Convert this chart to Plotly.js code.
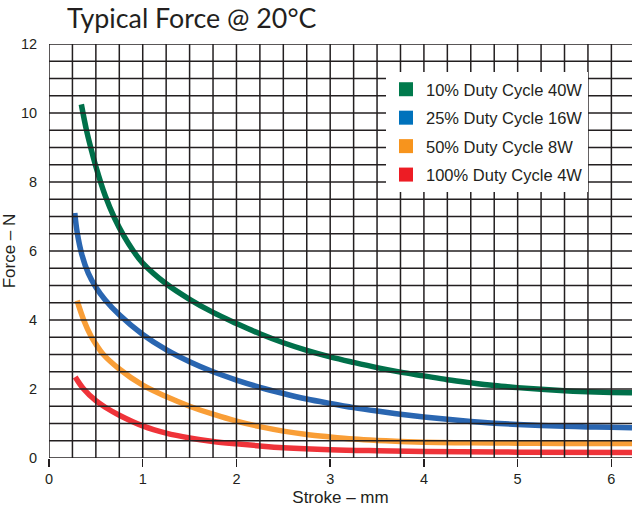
<!DOCTYPE html>
<html>
<head>
<meta charset="utf-8">
<script src="https://cdn.plot.ly/plotly-3.0.1.min.js"></script>
<style>html,body{margin:0;padding:0;background:#fff;}#chart{width:632px;height:515px;}</style>
</head>
<body>
<div id="chart"></div>
<script>
// ---- data ----
const seriesNames = ["10% Duty Cycle 40W", "25% Duty Cycle 16W", "50% Duty Cycle 8W", "100% Duty Cycle 4W"];

const strokeGreen = [0.345, 0.40, 0.45, 0.50, 0.60, 0.70, 0.80, 0.90, 1.00, 1.25, 1.50, 1.75, 2.00, 2.25, 2.50, 2.75, 3.00, 3.25, 3.50, 3.75, 4.00, 4.25, 4.50, 4.75, 5.00, 5.25, 5.50, 5.75, 6.00, 6.22];
const forceGreen  = [10.25, 9.50, 8.95, 8.45, 7.60, 6.95, 6.43, 6.00, 5.65, 5.05, 4.60, 4.22, 3.90, 3.60, 3.34, 3.12, 2.93, 2.77, 2.62, 2.49, 2.38, 2.27, 2.18, 2.10, 2.04, 1.99, 1.95, 1.92, 1.90, 1.89];

const strokeBlue = [0.275, 0.30, 0.35, 0.42, 0.50, 0.60, 0.75, 1.00, 1.25, 1.50, 1.75, 2.00, 2.25, 2.50, 2.75, 3.00, 3.25, 3.50, 3.75, 4.00, 4.25, 4.50, 4.75, 5.00, 5.25, 5.50, 5.75, 6.00, 6.22];
const forceBlue  = [7.10, 6.55, 5.90, 5.35, 4.95, 4.58, 4.15, 3.58, 3.14, 2.79, 2.50, 2.26, 2.05, 1.87, 1.71, 1.58, 1.46, 1.36, 1.27, 1.19, 1.12, 1.06, 1.01, 0.97, 0.94, 0.92, 0.90, 0.89, 0.88];

const strokeOrange = [0.30, 0.37, 0.45, 0.50, 0.58, 0.75, 1.00, 1.25, 1.50, 1.75, 2.00, 2.25, 2.50, 2.75, 3.00, 3.25, 3.50, 3.75, 4.00, 4.50, 5.00, 5.50, 6.00, 6.22];
const forceOrange  = [4.56, 4.00, 3.52, 3.30, 3.00, 2.58, 2.11, 1.78, 1.50, 1.27, 1.07, 0.91, 0.78, 0.68, 0.61, 0.55, 0.51, 0.48, 0.46, 0.44, 0.43, 0.42, 0.42, 0.42];

const strokeRed = [0.28, 0.37, 0.50, 0.60, 0.75, 1.00, 1.25, 1.50, 1.75, 2.00, 2.25, 2.50, 3.00, 3.50, 4.00, 5.00, 6.22];
const forceRed  = [2.35, 2.00, 1.66, 1.47, 1.24, 0.93, 0.72, 0.58, 0.48, 0.41, 0.35, 0.30, 0.24, 0.21, 0.19, 0.17, 0.16];

const xTickVals = [0, 1, 2, 3, 4, 5, 6];
const yTickVals = [0, 2, 4, 6, 8, 10, 12];

// ---- styling ----
const lineColors   = ["#00704a", "#2a66b1", "#f99e37", "#ef3339"];
const legendColors = ["#007a4c", "#0072bc", "#f7941d", "#ed1c24"];
const ink = "#231f20";
const xMax = 6.22, yMax = 12;

const curves = [
  [strokeGreen, forceGreen],
  [strokeBlue, forceBlue],
  [strokeOrange, forceOrange],
  [strokeRed, forceRed]
];

const traces = [];
curves.forEach((c, i) => {
  traces.push({
    x: c[0], y: c[1], type: "scatter", mode: "lines",
    line: {color: lineColors[i], width: 5.5, shape: "spline", smoothing: 1},
    showlegend: false, hoverinfo: "skip"
  });
});
seriesNames.forEach((name, i) => {
  traces.push({
    x: [null], y: [null], type: "scatter", mode: "markers", name: name,
    legendgroup: "g" + i,
    marker: {symbol: "square", size: 14, color: legendColors[i], line: {width: 0}}
  });
});

// grid drawn above the curves, as in the reference
const shapes = [];
for (let k = 0; k * 0.25 <= xMax + 1e-9; k++) {
  shapes.push({type: "line", layer: "above", xref: "x", yref: "paper",
    x0: k * 0.25, x1: k * 0.25, y0: 0, y1: 1, line: {color: ink, width: 1.5}});
}
for (let k = 0; k * 0.5 <= yMax + 1e-9; k++) {
  shapes.push({type: "line", layer: "above", xref: "paper", yref: "y",
    x0: 0, x1: 1, y0: k * 0.5, y1: k * 0.5, line: {color: ink, width: 1.5}});
}

const layout = {
  width: 632, height: 515,
  margin: {l: 49, r: 0, t: 44, b: 57},
  paper_bgcolor: "#fff", plot_bgcolor: "#fff",
  font: {family: "Liberation Sans, Arial, sans-serif", color: ink},
  title: {
    text: "Typical Force @ 20°C",
    font: {family: "Lato, sans-serif", size: 26.8, color: ink},
    xref: "container", yref: "container",
    x: 67 / 632, xanchor: "left", y: 1 - 19 / 515, yanchor: "middle"
  },
  xaxis: {
    range: [0, xMax], tickvals: xTickVals, ticktext: xTickVals.map(String),
    ticks: "outside", ticklen: 8, tickwidth: 1.5, tickcolor: ink,
    showgrid: false, zeroline: false, showline: false,
    tickfont: {size: 14.5, color: ink},
    title: {text: "Stroke – mm", font: {size: 17, color: ink}, standoff: 4}
  },
  yaxis: {
    range: [0, yMax], tickvals: yTickVals, ticktext: yTickVals.map(String),
    ticks: "outside", ticklen: 8, tickcolor: "rgba(0,0,0,0)",
    showgrid: false, zeroline: false, showline: false,
    tickfont: {size: 14.5, color: ink},
    title: {text: "Force – N", font: {size: 17, color: ink}}
  },
  legend: {
    x: (386 - 49) / 583, y: (458 - 72) / 414, xanchor: "left", yanchor: "top",
    bgcolor: "#fff", borderwidth: 0,
    font: {size: 16.5, color: ink},
    traceorder: "grouped", tracegroupgap: 4
  },
  shapes: shapes
};

Plotly.newPlot("chart", traces, layout, {displayModeBar: false, staticPlot: true});
</script>
</body>
</html>
